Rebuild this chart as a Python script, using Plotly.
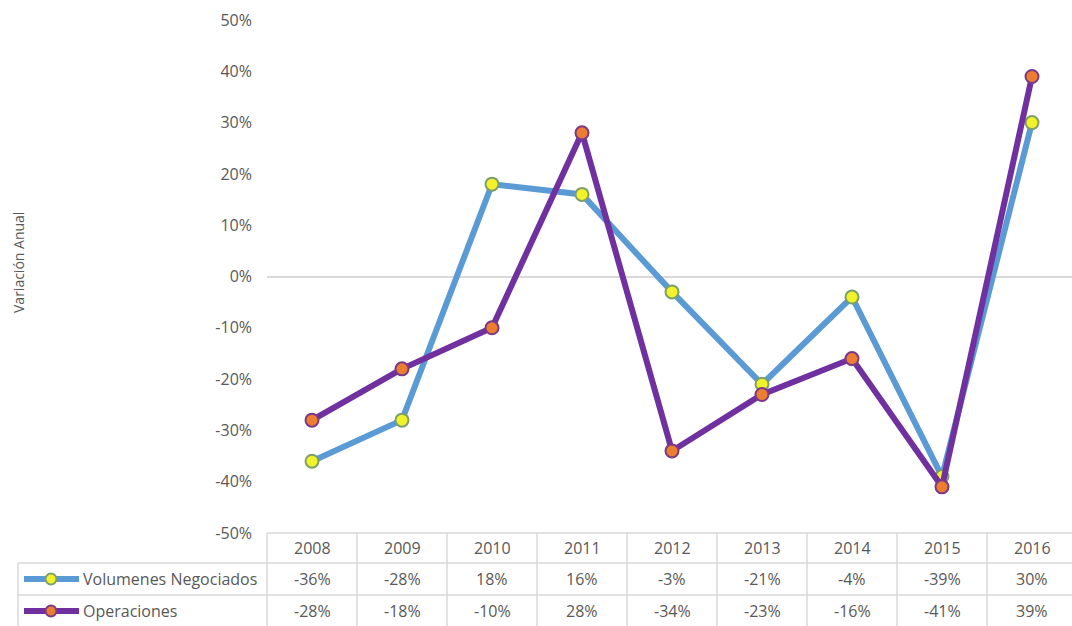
import plotly.graph_objects as go

# ---- data ----
years = ["2008", "2009", "2010", "2011", "2012", "2013", "2014", "2015", "2016"]
volumenes = [-36, -28, 18, 16, -3, -21, -4, -39, 30]      # % annual change
operaciones = [-28, -18, -10, 28, -34, -23, -16, -41, 39]  # % annual change
y_tick_values = [-50, -40, -30, -20, -10, 0, 10, 20, 30, 40, 50]
y_tick_labels = ["-50%", "-40%", "-30%", "-20%", "-10%", "0%", "10%", "20%", "30%", "40%", "50%"]
series_names = ["Volumenes Negociados", "Operaciones"]

# ---- styling ----
W, H = 1072, 626
L, R, T, B = 267, 0, 20, 93
PW, PH = W - L - R, H - T - B
COL_W = 90.0
FONT = "Open Sans"
TXT = "#595959"
GRID = "#D9D9D9"
FS = 16

blue, yellow, yellow_edge = "#5B9BD5", "#F2F22A", "#7E9E6A"
purple, orange, orange_edge = "#7030A0", "#ED7D31", "#7A3A86"


def px(x):
    return (x - L) / PW


def py(y):
    return (H - B - y) / PH


fig = go.Figure()
idx = list(range(len(years)))
fig.add_trace(go.Scatter(
    x=idx, y=volumenes, mode="lines+markers", name=series_names[0],
    line=dict(color=blue, width=6),
    marker=dict(size=13, color=yellow, line=dict(color=yellow_edge, width=2)),
    cliponaxis=False,
))
fig.add_trace(go.Scatter(
    x=idx, y=operaciones, mode="lines+markers", name=series_names[1],
    line=dict(color=purple, width=6),
    marker=dict(size=13, color=orange, line=dict(color=orange_edge, width=2)),
    cliponaxis=False,
))

shapes = []
annotations = []

# data table below the plot
row_tops = [533, 563, 595, 626]
line_style = dict(color=GRID, width=1.5)
shapes.append(dict(type="line", xref="paper", yref="paper",
                   x0=px(L), x1=px(W + 10), y0=py(row_tops[0]), y1=py(row_tops[0]), line=line_style))
for yy in row_tops[1:3]:
    shapes.append(dict(type="line", xref="paper", yref="paper",
                       x0=px(18), x1=px(W + 10), y0=py(yy), y1=py(yy), line=line_style))
shapes.append(dict(type="line", xref="paper", yref="paper",
                   x0=px(18), x1=px(18), y0=py(row_tops[1]), y1=py(H + 5), line=line_style))
for k in range(len(years) + 1):
    xx = L + k * COL_W
    shapes.append(dict(type="line", xref="paper", yref="paper",
                       x0=px(xx), x1=px(xx), y0=py(row_tops[0]), y1=py(H + 5), line=line_style))

row_centers = [548, 579, 611]
for k, yr in enumerate(years):
    cx = L + (k + 0.5) * COL_W
    for row, text in enumerate([yr, f"{volumenes[k]}%", f"{operaciones[k]}%"]):
        annotations.append(dict(xref="paper", yref="paper", x=px(cx), y=py(row_centers[row]),
                                text=text, showarrow=False, xanchor="center", yanchor="middle",
                                font=dict(family=FONT, size=FS, color=TXT)))

# legend keys inside the table
for row, (lc, mc, me, name) in enumerate([(blue, yellow, yellow_edge, series_names[0]),
                                          (purple, orange, orange_edge, series_names[1])]):
    yc = row_centers[row + 1]
    shapes.append(dict(type="line", xref="paper", yref="paper",
                       x0=px(24), x1=px(79), y0=py(yc), y1=py(yc),
                       line=dict(color=lc, width=6)))
    shapes.append(dict(type="circle", xref="paper", yref="paper",
                       x0=px(45.5), x1=px(56.5), y0=py(yc - 5.5), y1=py(yc + 5.5),
                       fillcolor=mc, line=dict(color=me, width=2)))
    annotations.append(dict(xref="paper", yref="paper", x=px(81), y=py(yc),
                            text=name, showarrow=False, xanchor="left", yanchor="middle",
                            font=dict(family=FONT, size=FS, color=TXT)))

# vertical axis title
annotations.append(dict(xref="paper", yref="paper", x=px(18), y=py(263),
                        text="Variación Anual", textangle=-90, showarrow=False,
                        xanchor="center", yanchor="middle",
                        font=dict(family=FONT, size=14, color=TXT)))

fig.update_layout(
    width=W, height=H,
    margin=dict(l=L, r=R, t=T, b=B),
    paper_bgcolor="white", plot_bgcolor="white",
    showlegend=False,
    shapes=shapes, annotations=annotations,
    xaxis=dict(range=[-0.5, -0.5 + PW / COL_W], showticklabels=False, showgrid=False,
               zeroline=False, showline=False, ticks=""),
    yaxis=dict(range=[-50, 50], tickvals=y_tick_values, ticktext=y_tick_labels,
               showgrid=False, zeroline=True, zerolinecolor=GRID, zerolinewidth=1.5,
               showline=False, ticks="", ticklabelstandoff=14,
               tickfont=dict(family=FONT, size=FS, color=TXT)),
)

fig.write_html("out.html")
